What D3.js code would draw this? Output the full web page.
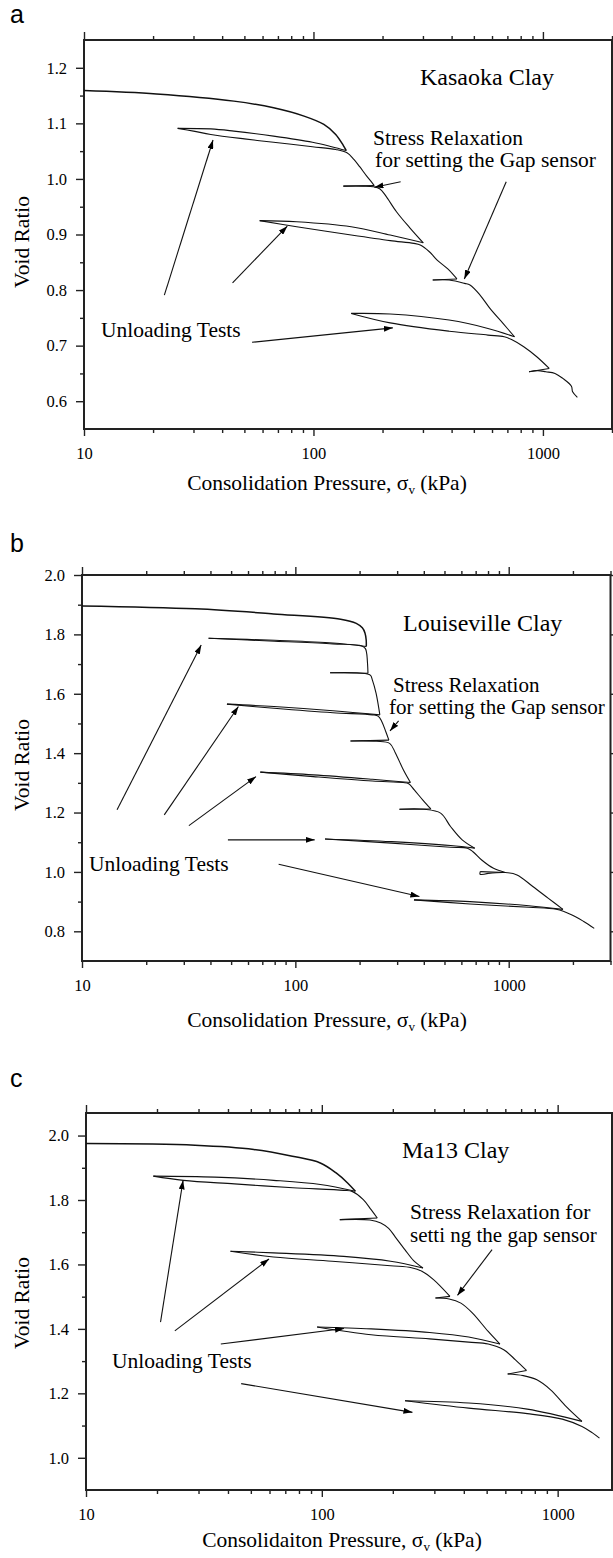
<!DOCTYPE html>
<html><head><meta charset="utf-8">
<script src="https://cdn.jsdelivr.net/npm/d3@7"></script>
<style>
body{margin:0;background:#fff;}
svg text{font-family:"Liberation Serif","Times New Roman",serif;fill:#000;}
</style></head><body>
<svg id="chart" width="613" height="1558"></svg>
<script>
// ---------- DATA (pressure kPa, void ratio) ----------
const xTickLabels = [10, 100, 1000];

const kasaokaYTicks = [0.6, 0.7, 0.8, 0.9, 1.0, 1.1, 1.2];
const kasaokaYMinor = [0.65, 0.75, 0.85, 0.95, 1.05, 1.15];
const louisevilleYTicks = [0.8, 1.0, 1.2, 1.4, 1.6, 1.8, 2.0];
const louisevilleYMinor = [0.9, 1.1, 1.3, 1.5, 1.7, 1.9];
const ma13YTicks = [1.0, 1.2, 1.4, 1.6, 1.8, 2.0];
const ma13YMinor = [1.1, 1.3, 1.5, 1.7, 1.9];

const kasaokaCurves = [
  [[10,1.159],[20.7,1.153],[45,1.140],[67,1.128],[91,1.113],[111,1.098],[125,1.080],[135,1.060],[139,1.051]],
  [[139,1.051],[120,1.058],[99,1.066],[67,1.077],[45,1.086],[35.7,1.090],[25.6,1.091]],
  [[25.6,1.091],[30,1.086],[35.7,1.080],[50,1.072],[67,1.066],[99,1.058],[125,1.053],[140,1.047],[150,1.035],[159,1.022],[170,1.006],[178.6,0.995],[184,0.988]],
  [[184,0.988],[135,0.987]],
  [[135,0.987],[165,0.987],[182,0.986],[195,0.982],[207,0.969],[230,0.941],[263,0.912],[301,0.885]],
  [[301,0.885],[216,0.899],[146,0.914],[84.5,0.923],[58.3,0.925]],
  [[58.3,0.925],[84.5,0.914],[146,0.899],[216,0.889],[274,0.884],[292,0.881],[320,0.869],[346,0.854],[385,0.838],[422,0.820]],
  [[422,0.820],[331,0.818]],
  [[331,0.818],[390,0.818],[456,0.812],[481,0.809],[532,0.791],[590,0.766],[670,0.740],[752,0.716]],
  [[752,0.716],[576,0.731],[390,0.746],[216,0.757],[146,0.758]],
  [[146,0.758],[216,0.741],[390,0.726],[576,0.719],[678,0.716],[730,0.711],[825,0.698],[940,0.680],[1065,0.659]],
  [[1065,0.659],[870,0.653]],
  [[870,0.653],[950,0.655],[1030,0.653],[1129,0.650],[1221,0.641],[1331,0.627],[1347,0.617],[1413,0.607]]
];

const louisevilleCurves = [
  [[10,1.896],[34,1.886],[79,1.869],[163,1.851],[193,1.837],[206,1.822],[212,1.805],[214.8,1.781],[215,1.759]],
  [[215,1.759],[150,1.771],[80,1.780],[39.2,1.787]],
  [[39.2,1.787],[80,1.777],[150,1.768],[205,1.761],[213,1.752],[216,1.735],[218,1.700],[219,1.669]],
  [[219,1.669],[145.5,1.671]],
  [[145.5,1.671],[200,1.670],[224.5,1.663],[229.7,1.646],[238.9,1.602],[248.9,1.529]],
  [[248.9,1.529],[150,1.543],[79.4,1.557],[47.8,1.565]],
  [[47.8,1.565],[79.4,1.551],[150,1.536],[230,1.529],[245,1.524],[254.4,1.506],[265.5,1.472],[274.4,1.444]],
  [[274.4,1.444],[181.3,1.441]],
  [[181.3,1.441],[240,1.440],[276.7,1.433],[294.8,1.400],[321.1,1.343],[346.3,1.301]],
  [[346.3,1.301],[229.7,1.312],[121.3,1.327],[68.5,1.336]],
  [[68.5,1.336],[121.3,1.321],[229.7,1.306],[320,1.301],[340,1.297],[361,1.276],[396,1.242],[431.5,1.212]],
  [[431.5,1.212],[307.6,1.211]],
  [[307.6,1.211],[400,1.211],[479.6,1.198],[533.7,1.153],[605.3,1.108],[692.9,1.080]],
  [[692.9,1.080],[533.7,1.089],[282.5,1.102],[137.7,1.111]],
  [[137.7,1.111],[282.5,1.097],[533.7,1.083],[640,1.080],[680,1.068],[747,1.040],[849,1.012],[963.5,0.998]],
  [[963.5,0.998],[735,1.001]],
  [[735,1.001],[735,0.992],[800,0.995]],
  [[800,0.995],[963.5,0.998],[1094,0.990],[1297,0.951],[1535,0.911],[1796,0.874]],
  [[1796,0.874],[1243,0.886],[658.6,0.900],[359.7,0.906]],
  [[359.7,0.906],[658.6,0.892],[1243,0.881],[1670,0.874],[1980,0.855],[2247,0.833],[2517,0.810]]
];

const ma13Curves = [
  [[10,1.975],[29,1.970],[51.5,1.957],[75,1.936],[98.5,1.915],[115,1.884],[128.6,1.853],[138.8,1.827]],
  [[138.8,1.827],[98.5,1.848],[62.4,1.861],[35.2,1.871],[19.3,1.874]],
  [[19.3,1.874],[25.9,1.861],[42.6,1.850],[75.4,1.838],[123.8,1.830],[135,1.826],[149.9,1.801],[161.8,1.770],[171.8,1.744]],
  [[171.8,1.744],[119.2,1.739]],
  [[119.2,1.739],[160,1.738],[177.8,1.729],[192,1.712],[205,1.685],[225,1.646],[245,1.612],[268.5,1.589]],
  [[268.5,1.589],[195.6,1.610],[123.8,1.625],[62.4,1.636],[41,1.641]],
  [[41,1.641],[62.4,1.623],[110.5,1.610],[195.6,1.596],[240,1.590],[265.6,1.579],[297.6,1.553],[349.4,1.501]],
  [[349.4,1.501],[303.3,1.496]],
  [[303.3,1.496],[346.6,1.493],[388.8,1.480],[435.5,1.449],[507.6,1.392],[569.1,1.353]],
  [[569.1,1.353],[419.4,1.375],[286.4,1.389],[161.8,1.400],[95.5,1.406]],
  [[95.5,1.406],[161.8,1.382],[286.4,1.369],[419.4,1.359],[507.6,1.353],[590.7,1.335],[662.2,1.304],[737.7,1.271]],
  [[737.7,1.271],[613.8,1.260]],
  [[613.8,1.260],[714.4,1.255],[816.6,1.242],[933.4,1.211],[1087.5,1.159],[1267.9,1.113]],
  [[1267.9,1.113],[743,1.151],[419.4,1.170],[225.3,1.177]],
  [[225.3,1.177],[419.4,1.154],[743,1.137],[1047,1.120],[1268,1.097],[1400,1.078],[1504,1.061]]
];

// annotation arrows: [from, to] in (pressure, void ratio)
const kasaokaArrows = [
  [[22.4,0.791],[36.5,1.070]],
  [[44.4,0.813],[76.9,0.915]],
  [[54,0.706],[221.8,0.732]],
  [[239.9,0.995],[184.4,0.985]],
  [[691.9,0.995],[454.5,0.820]]
];
const louisevilleArrows = [
  [[14.6,1.209],[36.2,1.764]],
  [[24.3,1.192],[54.1,1.557]],
  [[31.7,1.156],[65.4,1.321]],
  [[48.3,1.108],[123.2,1.108]],
  [[83.5,1.026],[381.5,0.917]],
  [[304.8,1.509],[277.8,1.475]]
];
const ma13Arrows = [
  [[20.7,1.421],[25.8,1.861]],
  [[23.8,1.394],[59.7,1.617]],
  [[37.3,1.353],[124.2,1.401]],
  [[45.5,1.230],[242.3,1.141]],
  [[527,1.646],[375.8,1.504]]
];

// ---------- DRAWING ----------
const svg = d3.select("#chart");
const defs = svg.append("defs");
defs.append("marker").attr("id","ah")
  .attr("markerUnits","userSpaceOnUse")
  .attr("markerWidth",9).attr("markerHeight",6)
  .attr("refX",9).attr("refY",3).attr("orient","auto")
  .append("path").attr("d","M0,0L9,3L0,6Z").attr("fill","#000");

function minorTicks(domain){
  const out=[];
  for(let dec=1; dec<=10000; dec*=10){
    for(let k=1;k<=9;k++){
      const v=k*dec;
      if(v>=domain[0] && v<=domain[1]) out.push(v);
    }
  }
  return out;
}

function drawPanel(cfg){
  const x = d3.scaleLog().domain(cfg.xDomain).range([cfg.left, cfg.right]);
  const y = d3.scaleLinear().domain(cfg.yDomain).range([cfg.bottom, cfg.top]);
  const g = svg.append("g");

  const allX = minorTicks(cfg.xDomain);
  const majX = xTickLabels.filter(v=>v>=cfg.xDomain[0]&&v<=cfg.xDomain[1]);
  const minX = allX.filter(v=>!majX.includes(v));

  function styleAxis(sel){
    sel.select(".domain").remove();
    sel.selectAll("line").attr("stroke","#222").attr("stroke-width",1.4);
    sel.selectAll("text").attr("font-size",16.5).attr("fill","#222");
  }
  // bottom
  g.append("g").attr("transform",`translate(0,${cfg.bottom})`)
    .call(d3.axisBottom(x).tickValues(majX).tickSize(7).tickPadding(11).tickFormat(d3.format("d"))).call(styleAxis);
  g.append("g").attr("transform",`translate(0,${cfg.bottom})`)
    .call(d3.axisBottom(x).tickValues(minX).tickSize(4).tickFormat("")).call(styleAxis);
  // top
  g.append("g").attr("transform",`translate(0,${cfg.top})`)
    .call(d3.axisTop(x).tickValues(majX).tickSize(8).tickFormat("")).call(styleAxis);
  g.append("g").attr("transform",`translate(0,${cfg.top})`)
    .call(d3.axisTop(x).tickValues(minX).tickSize(4).tickFormat("")).call(styleAxis);
  // left
  g.append("g").attr("transform",`translate(${cfg.left},0)`)
    .call(d3.axisLeft(y).tickValues(cfg.yTicks).tickSize(8).tickPadding(9).tickFormat(d3.format(".1f"))).call(styleAxis);
  g.append("g").attr("transform",`translate(${cfg.left},0)`)
    .call(d3.axisLeft(y).tickValues(cfg.yMinor).tickSize(4).tickFormat("")).call(styleAxis);
  // right
  g.append("g").attr("transform",`translate(${cfg.right},0)`)
    .call(d3.axisRight(y).tickValues(cfg.yTicks).tickSize(8).tickFormat("")).call(styleAxis);

  // frame
  g.append("rect").attr("x",cfg.left).attr("y",cfg.top)
    .attr("width",cfg.right-cfg.left).attr("height",cfg.bottom-cfg.top)
    .attr("fill","none").attr("stroke","#222").attr("stroke-width",2);

  // curves
  const line = d3.line().x(d=>x(d[0])).y(d=>y(d[1])).curve(d3.curveCatmullRom.alpha(0.5));
  g.selectAll("path.curve").data(cfg.curves).enter().append("path")
    .attr("class","curve").attr("d",line)
    .attr("fill","none").attr("stroke","#111").attr("stroke-width",(d,i)=>i===0?1.5:1.1)
    .attr("stroke-linejoin","round");

  // arrows
  g.selectAll("line.arrow").data(cfg.arrows).enter().append("line")
    .attr("class","arrow")
    .attr("x1",d=>x(d[0][0])).attr("y1",d=>y(d[0][1]))
    .attr("x2",d=>x(d[1][0])).attr("y2",d=>y(d[1][1]))
    .attr("stroke","#111").attr("stroke-width",1.1).attr("marker-end","url(#ah)");

  // panel letter
  svg.append("text").attr("x",cfg.letterX).attr("y",cfg.letterY)
    .attr("font-size",25)
    .style("font-family","'Liberation Sans', Arial, sans-serif")
    .text(cfg.letter);

  // annotations
  cfg.texts.forEach(t=>{
    g.append("text").attr("x",t.x).attr("y",t.y).attr("font-size",t.size)
      .attr("fill","#222").text(t.s);
  });

  // x title
  const xt = g.append("text").attr("x",cfg.xTitleX).attr("y",cfg.xTitleY)
    .attr("text-anchor","middle").attr("font-size",21.5).attr("fill","#222");
  xt.append("tspan").text(cfg.xTitle+", σ");
  xt.append("tspan").attr("font-size",13).attr("dy",4).text("v");
  xt.append("tspan").attr("dy",-4).text(" (kPa)");

  // y title
  g.append("text").attr("transform",`translate(29,${cfg.yTitleY}) rotate(-90)`)
    .attr("text-anchor","middle").attr("font-size",21.5).attr("fill","#222").text("Void Ratio");
}

drawPanel({
  letter:"a", letterX:10, letterY:23,
  xDomain:[10,2000], yDomain:[0.55,1.25],
  left:84, right:612, top:40, bottom:429,
  yTicks:kasaokaYTicks, yMinor:kasaokaYMinor,
  curves:kasaokaCurves, arrows:kasaokaArrows,
  xTitle:"Consolidation Pressure", xTitleX:327, xTitleY:490, yTitleY:242,
  texts:[
    {s:"Kasaoka Clay", x:420, y:85, size:24},
    {s:"Stress Relaxation", x:373, y:145, size:21.5},
    {s:"for setting the Gap sensor", x:375, y:167, size:21.5},
    {s:"Unloading Tests", x:101, y:337, size:21.5}
  ]
});
drawPanel({
  letter:"b", letterX:10, letterY:552,
  xDomain:[10,3000], yDomain:[0.7,2.0],
  left:82, right:610.5, top:575, bottom:961,
  yTicks:louisevilleYTicks, yMinor:louisevilleYMinor,
  curves:louisevilleCurves, arrows:louisevilleArrows,
  xTitle:"Consolidation Pressure", xTitleX:327, xTitleY:1027, yTitleY:765,
  texts:[
    {s:"Louiseville Clay", x:403, y:631, size:24},
    {s:"Stress Relaxation", x:393, y:692, size:21},
    {s:"for setting the Gap sensor", x:389, y:714, size:21},
    {s:"Unloading Tests", x:89, y:871, size:21.5}
  ]
});
drawPanel({
  letter:"c", letterX:10, letterY:1087,
  xDomain:[10,1700], yDomain:[0.9,2.07],
  left:86, right:612, top:1113, bottom:1490,
  yTicks:ma13YTicks, yMinor:ma13YMinor,
  curves:ma13Curves, arrows:ma13Arrows,
  xTitle:"Consolidaiton Pressure", xTitleX:342, xTitleY:1547, yTitleY:1303,
  texts:[
    {s:"Ma13 Clay", x:402, y:1158, size:24},
    {s:"Stress Relaxation for", x:410, y:1219, size:21.5},
    {s:"setti ng the gap sensor", x:410, y:1242, size:21},
    {s:"Unloading Tests", x:112, y:1368, size:21.5}
  ]
});
</script></body></html>
